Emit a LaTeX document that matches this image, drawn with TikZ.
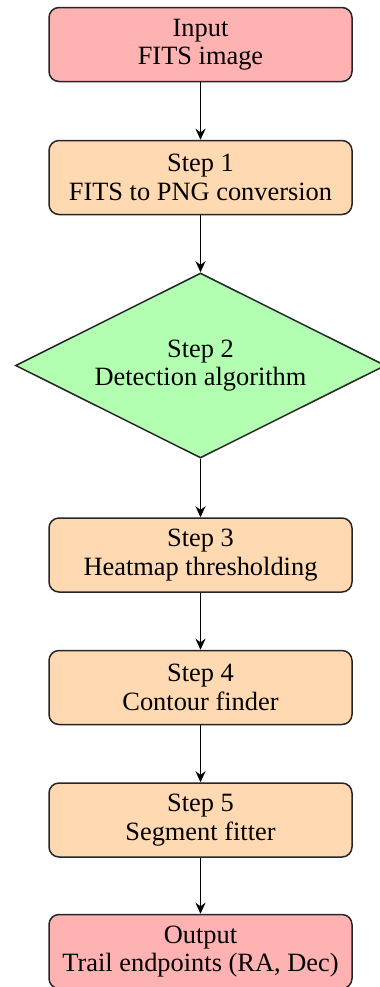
\documentclass[tikz,border=0pt]{standalone}
\usepackage{fontspec}
\setmainfont{Liberation Serif}
\usetikzlibrary{shapes.geometric,arrows.meta}
\tikzset{
  base/.style={draw=black!85, line width=0.75pt, align=center, font=\fontsize{13.2}{14.2}\selectfont},
  procbox/.style={base, rectangle, rounded corners=5pt, minimum width=151.5pt, minimum height=37pt, fill=orange!30},
  iobox/.style={procbox, fill=red!30},
  decision/.style={base, diamond, aspect=2, inner sep=0pt, minimum width=185pt, minimum height=92.5pt, fill=green!30},
  flow/.style={draw=black, line width=0.9pt, -{Stealth[length=5.5pt,width=5pt]}}
}
\begin{document}
\begin{tikzpicture}[x=0.5pt,y=-0.5pt]
  \useasboundingbox (0,0) rectangle (380,987);
  \node[iobox]    (in)  at (200.5,44.5)  {Input\\FITS image};
  \node[procbox]  (s1)  at (200.5,177.5) {Step 1\\FITS to PNG conversion};
  \node[decision] (s2)  at (200.5,365.5) {Step 2\\Detection algorithm};
  \node[procbox]  (s3)  at (200.5,555)   {Step 3\\Heatmap thresholding};
  \node[procbox]  (s4)  at (200.5,687.5) {Step 4\\Contour finder};
  \node[procbox]  (s5)  at (200.5,820)   {Step 5\\Segment fitter};
  \node[iobox]    (out) at (200.5,951.5) {Output\\Trail endpoints (RA, Dec)};
  \draw[flow] (in) -- (s1);
  \draw[flow] (s1) -- (s2);
  \draw[flow] (s2) -- (s3);
  \draw[flow] (s3) -- (s4);
  \draw[flow] (s4) -- (s5);
  \draw[flow] (s5) -- (out);
\end{tikzpicture}
\end{document}
